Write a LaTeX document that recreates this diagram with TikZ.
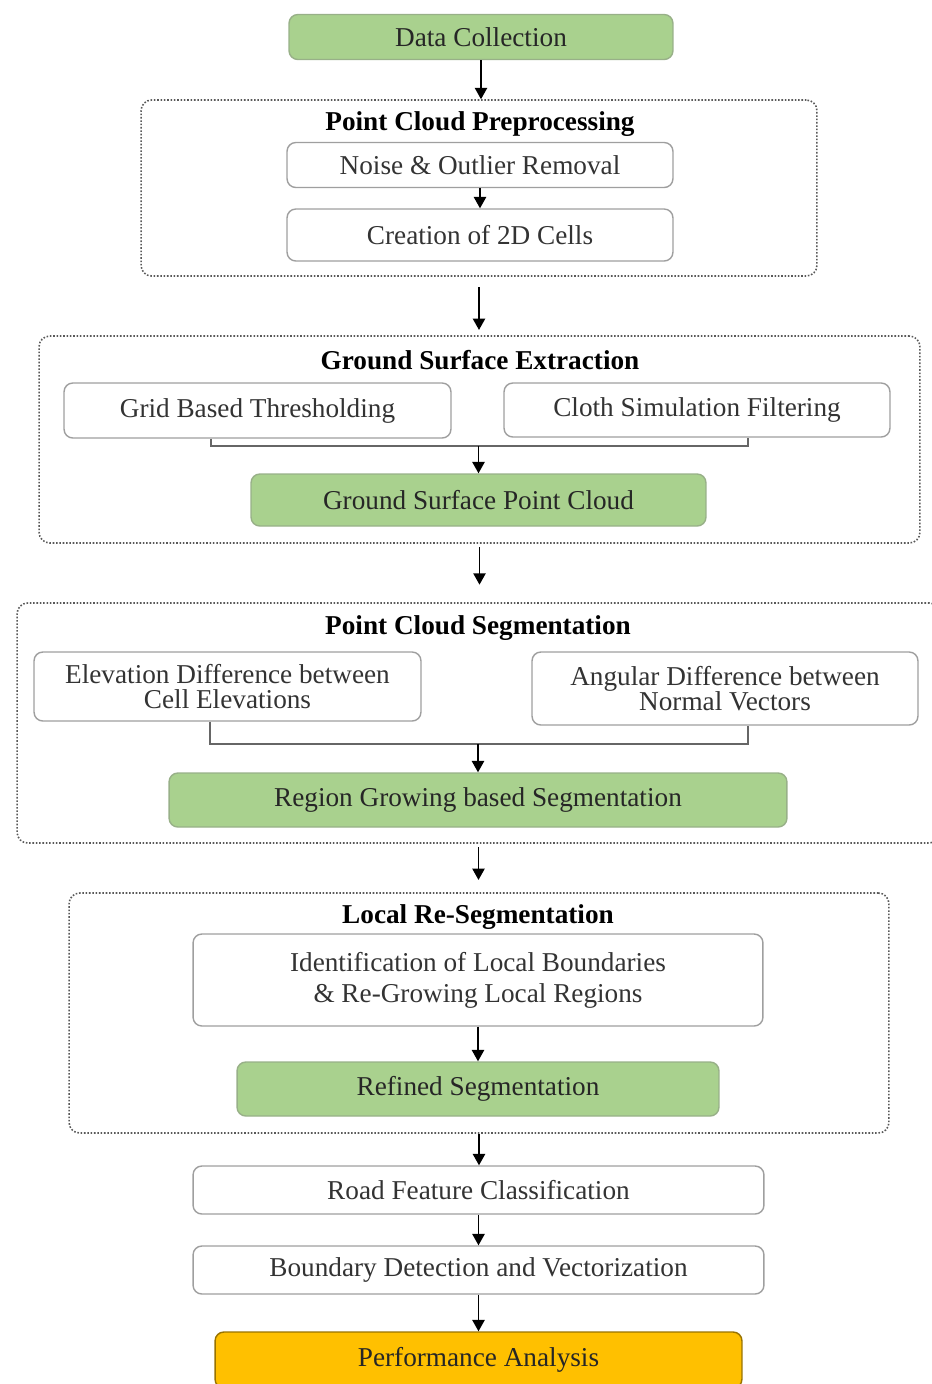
\documentclass[tikz,border=0pt]{standalone}
\usepackage{fontspec}
\setmainfont{Liberation Serif}
\usepackage{xcolor}
\usepackage{tikz}
\usetikzlibrary{arrows.meta}

\definecolor{stepgreen}{HTML}{A9D18E}
\definecolor{stepgold}{HTML}{FFC000}

\begin{document}
\begin{tikzpicture}[x=0.02cm, y=-0.02cm,
    every node/.style={rectangle, font=\fontsize{15.5}{16}\selectfont, text centered, align=center, rounded corners=5pt, inner sep=0pt},
    stepbox/.style={draw=gray!75, line width=0.8pt, fill=white, text=black!80},
    greenbox/.style={stepbox, fill=stepgreen, draw=stepgreen!60!gray, text=black!85},
    goldbox/.style={stepbox, fill=stepgold, draw=stepgold!60!black, text=black!85},
    frame/.style={draw=black!65, densely dotted, line width=0.9pt, rounded corners=6pt},
    heading/.style={font=\fontsize{15.5}{16}\selectfont\bfseries},
    flow/.style={-{Triangle[length=6.5pt,width=7pt]}, line width=1pt}]
    \useasboundingbox (0,0) rectangle (931,1384);

    \node[greenbox, minimum width=7.68cm, minimum height=0.9cm] (DataCollection) at (481,37) {Data Collection};

    % preprocessing
    \node[frame, minimum width=13.52cm, minimum height=3.52cm] (PreFrame) at (479,188) {};
    \node[heading] (PreTitle) at (480,124) {Point Cloud Preprocessing};
    \node[stepbox, minimum width=7.72cm, minimum height=0.9cm] (Noise) at (480,165) {Noise \& Outlier Removal};
    \node[stepbox, minimum width=7.72cm, minimum height=1.04cm] (Cells) at (480,235) {Creation of 2D Cells};

    % ground surface
    \node[frame, minimum width=17.62cm, minimum height=4.14cm] (GroundFrame) at (479.5,439.5) {};
    \node[heading] (GroundTitle) at (480,360) {Ground Surface Extraction};
    \node[stepbox, minimum width=7.74cm, minimum height=1.1cm] (GridThresh) at (257.5,410.5) {Grid Based Thresholding};
    \node[stepbox, minimum width=7.72cm, minimum height=1.08cm] (ClothFilter) at (697,410) {Cloth Simulation Filtering};
    \node[greenbox, minimum width=9.1cm, minimum height=1.04cm] (GroundCloud) at (478.5,500) {Ground Surface Point Cloud};
    \coordinate (GroundL) at (211,446);
    \coordinate (GroundR) at (748,446);

    % segmentation
    \node[frame, minimum width=18.46cm, minimum height=4.8cm] (SegFrame) at (478.5,723) {};
    \node[heading] (SegTitle) at (478,628) {Point Cloud Segmentation};
    \node[stepbox, minimum width=7.74cm, minimum height=1.38cm, font=\fontsize{15.5}{14.5}\selectfont] (ElevDiff) at (227.5,686.5) {Elevation Difference between\\Cell Elevations};
    \node[stepbox, minimum width=7.72cm, minimum height=1.46cm, font=\fontsize{15.5}{14.5}\selectfont] (AngDiff) at (725,688.5) {Angular Difference between\\Normal Vectors};
    \node[greenbox, minimum width=12.36cm, minimum height=1.08cm] (RegionGrow) at (478,800) {Region Growing based Segmentation};
    \coordinate (SegL) at (210,744);
    \coordinate (SegR) at (748,744);

    % local re-segmentation
    \node[frame, minimum width=16.4cm, minimum height=4.8cm] (LocalFrame) at (479,1013) {};
    \node[heading] (LocalTitle) at (478,917) {Local Re-Segmentation};
    \node[stepbox, minimum width=11.4cm, minimum height=1.84cm, font=\fontsize{15.5}{17.6}\selectfont] (LocalBound) at (478,980) {Identification of Local Boundaries\\\& Re-Growing Local Regions};
    \node[greenbox, minimum width=9.64cm, minimum height=1.08cm] (Refined) at (478,1089) {Refined Segmentation};

    \node[stepbox, minimum width=11.42cm, minimum height=0.96cm] (RoadClass) at (478.5,1190) {Road Feature Classification};
    \node[stepbox, minimum width=11.42cm, minimum height=0.96cm] (BoundDetect) at (478.5,1270) {Boundary Detection and Vectorization};
    \node[goldbox, minimum width=10.54cm, minimum height=1.12cm] (Perf) at (478.5,1360) {Performance Analysis};

    % connectors
    \draw[flow] (DataCollection.south) -- (DataCollection.south |- PreFrame.north);
    \draw[flow] (Noise.south) -- (Cells.north);
    \draw[flow, shorten <=6pt, shorten >=3pt] (PreFrame.south) -- (PreFrame.south |- GroundFrame.north);
    \draw[line width=0.8pt, draw=black!60] (GroundL |- GridThresh.south) -- (GroundL) -- (GroundR) -- (GroundR |- ClothFilter.south);
    \draw[flow] (GroundL -| GroundCloud.north) -- (GroundCloud.north);
    \draw[flow, shorten <=2pt, shorten >=10pt] (GroundFrame.south) -- (GroundFrame.south |- SegFrame.north);
    \draw[line width=0.8pt, draw=black!60] (SegL |- ElevDiff.south) -- (SegL) -- (SegR) -- (SegR |- AngDiff.south);
    \draw[flow] (SegL -| RegionGrow.north) -- (RegionGrow.north);
    \draw[flow, shorten <=2pt, shorten >=7pt] (SegFrame.south) -- (SegFrame.south |- LocalFrame.north);
    \draw[flow] (LocalBound.south) -- (Refined.north);
    \draw[flow] (LocalFrame.south) -- (LocalFrame.south |- RoadClass.north);
    \draw[flow] (RoadClass.south) -- (BoundDetect.north);
    \draw[flow] (BoundDetect.south) -- (Perf.north);
\end{tikzpicture}
\end{document}
